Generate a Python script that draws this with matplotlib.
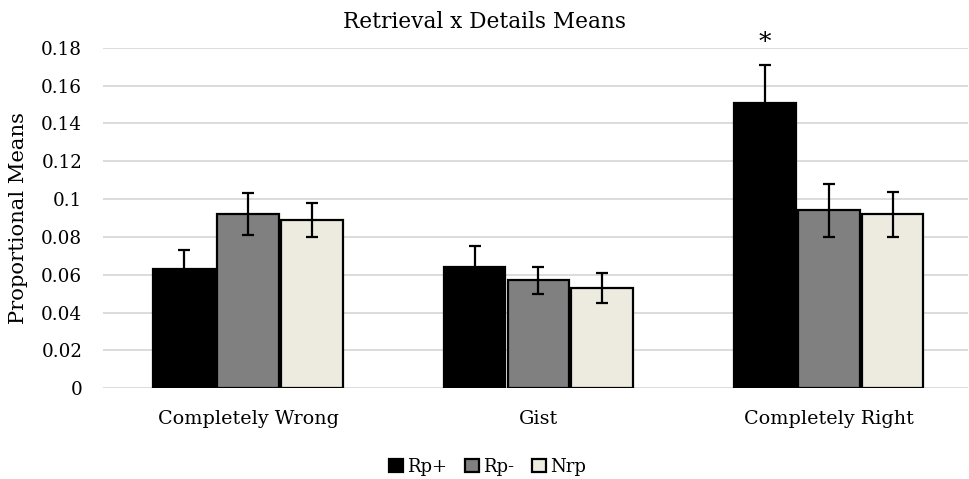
import matplotlib.pyplot as plt
import numpy as np

# values
categories = ['Completely Wrong', 'Gist', 'Completely Right']
series = ['Rp+', 'Rp-', 'Nrp']
means = {
    'Rp+': [0.063, 0.064, 0.151],
    'Rp-': [0.092, 0.057, 0.094],
    'Nrp': [0.089, 0.053, 0.092],
}
errors = {
    'Rp+': [0.010, 0.011, 0.020],
    'Rp-': [0.011, 0.007, 0.014],
    'Nrp': [0.009, 0.008, 0.012],
}
colors = {'Rp+': '#000000', 'Rp-': '#808080', 'Nrp': '#EDEBE0'}
yticks = [0, 0.02, 0.04, 0.06, 0.08, 0.1, 0.12, 0.14, 0.16, 0.18]
ytick_labels = ['0', '0.02', '0.04', '0.06', '0.08', '0.1', '0.12', '0.14', '0.16', '0.18']

plt.rcParams['font.family'] = ['DejaVu Serif']

fig = plt.figure(figsize=(9.69, 4.79), dpi=100)
ax = fig.add_axes([0.1063, 0.1894, 0.8927, 0.711])

x = np.arange(len(categories))
width = 0.213
step = 0.22
for i, s in enumerate(series):
    pos = x + (i - 1) * step
    ax.bar(pos, means[s], width, color=colors[s], edgecolor='black', linewidth=1.6,
           label=s, zorder=3)
    ax.errorbar(pos, means[s], yerr=errors[s], fmt='none', ecolor='black',
                elinewidth=1.6, capsize=4.5, capthick=1.6, zorder=4)

# significance marker above Completely Right / Rp+
ax.text(x[2] - step, 0.1825, '*', ha='center', va='center', fontsize=18, clip_on=False)

ax.set_ylim(0, 0.18)
ax.set_xlim(-0.5, 2.48)
ax.set_yticks(yticks)
ax.set_yticklabels(ytick_labels)
ax.set_xticks(x)
ax.set_xticklabels(categories)
ax.tick_params(axis='both', length=0)
ax.tick_params(axis='y', labelsize=13.2, pad=15)
ax.tick_params(axis='x', labelsize=13.8, pad=16)
ax.yaxis.grid(True, color='#D9D9D9', linewidth=1.3, zorder=0)
for sp in ax.spines.values():
    sp.set_visible(False)

fig.text(0.0196, 0.545, 'Proportional Means', rotation=90, ha='center', va='center',
         fontsize=15.2)
fig.text(0.5, 0.955, 'Retrieval x Details Means', ha='center', va='center', fontsize=15.6)

fig.legend(loc='lower center', bbox_to_anchor=(0.503, -0.027), ncol=3, frameon=False,
           fontsize=13, handlelength=0.8, handleheight=0.8, handletextpad=0.2,
           columnspacing=1.0)

plt.savefig('out.png', dpi=100)
